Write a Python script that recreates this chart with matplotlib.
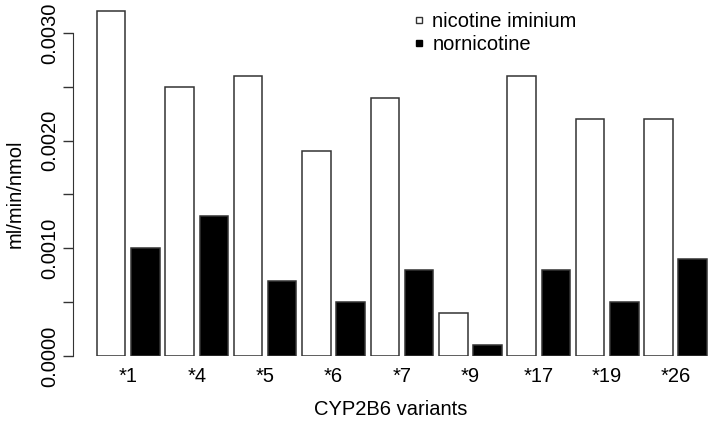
import matplotlib
matplotlib.use('Agg')
import matplotlib.pyplot as plt
from matplotlib.lines import Line2D
import numpy as np

plt.rcParams['font.family'] = ['Liberation Sans', 'DejaVu Sans']

variants = ['*1', '*4', '*5', '*6', '*7', '*9', '*17', '*19', '*26']
iminium = [0.0032, 0.0025, 0.0026, 0.0019, 0.0024, 0.0004, 0.0026, 0.0022, 0.0022]
nornicotine = [0.0010, 0.0013, 0.0007, 0.0005, 0.0008, 0.0001, 0.0008, 0.0005, 0.0009]
yticks = [0.0, 0.0005, 0.0010, 0.0015, 0.0020, 0.0025, 0.0030]
ylabels = ['0.0000', '', '0.0010', '', '0.0020', '', '0.0030']

fig = plt.figure(figsize=(7.09, 4.24), dpi=100)
ax = fig.add_axes([73 / 709, 68 / 424, 1 - 73 / 709, 356 / 424])

# R-style barplot: bar width 1, gap 0.2 between all bars
k = np.arange(len(variants))
left_w = 0.2 + 2.4 * k
left_b = left_w + 1.2
ax.bar(left_w, iminium, width=1, align='edge', color='white', edgecolor='#333333', linewidth=1.1)
ax.bar(left_b, nornicotine, width=1, align='edge', color='black', edgecolor='#333333', linewidth=1.1)

ax.set_xlim(-0.64, 21.67)
ax.set_ylim(0, 0.003306)

for s in ['top', 'right', 'bottom']:
    ax.spines[s].set_visible(False)
ax.spines['left'].set_bounds(0, 0.003)
ax.spines['left'].set_color('#333333')

ax.set_yticks(yticks)
ax.set_yticklabels(ylabels, rotation=90, va='center')
ax.tick_params(axis='y', length=7, width=1, color='#333333', labelsize=14.5, pad=3)

ax.set_xticks(left_w + 1.1)
ax.set_xticklabels(variants)
ax.tick_params(axis='x', length=0, labelsize=14.5, pad=8)

ax.set_xlabel('CYP2B6 variants', fontsize=14.5, labelpad=10)
fig.text(15 / 709, 1 - 194 / 424, 'ml/min/nmol', rotation=90, ha='center', va='center', fontsize=14.5)

handles = [Line2D([], [], marker='s', linestyle='none', markersize=5,
                  markerfacecolor='white', markeredgecolor='#333333', markeredgewidth=1),
           Line2D([], [], marker='s', linestyle='none', markersize=5,
                  markerfacecolor='black', markeredgecolor='black')]
fig.legend(handles, ['nicotine iminium', 'nornicotine'], loc='upper left',
           bbox_to_anchor=(400 / 709, 1 + 2 / 424), frameon=False, fontsize=14.5,
           handlelength=0.5, handletextpad=0.4, borderpad=0.2, labelspacing=0.2)

fig.savefig('out.png', dpi=100)
